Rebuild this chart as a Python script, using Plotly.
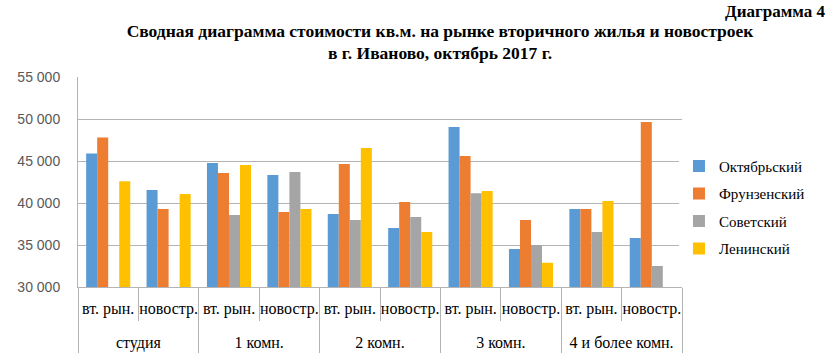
import plotly.graph_objects as go

groups = ["студия", "студия", "1 комн.", "1 комн.", "2 комн.", "2 комн.",
          "3 комн.", "3 комн.", "4 и более комн.", "4 и более комн."]
subcats = ["вт. рын.", "новостр."] * 5

oktyabrsky = [45900, 41550, 44760, 43330, 38690, 37020, 49050, 34520, 39290, 35830]
frunzensky = [47800, 39300, 43570, 38930, 44640, 40120, 45600, 37980, 39290, 49640]
sovetsky   = [None, None, 38570, 43690, 37980, 38330, 41150, 35000, 36550, 32500]
leninsky   = [42600, 41070, 44520, 39290, 46550, 36550, 41430, 32900, 40240, None]

series = [
    ("Октябрьский", oktyabrsky, "#5B9BD5"),
    ("Фрунзенский", frunzensky, "#ED7D31"),
    ("Советский", sovetsky, "#A5A5A5"),
    ("Ленинский", leninsky, "#FFC000"),
]

group_labels = ["<br>" + g for g in groups]

fig = go.Figure()
for name, vals, col in series:
    fig.add_trace(go.Bar(x=[group_labels, subcats], y=vals, name=name, legendgroup=name,
                         marker=dict(color=col, line=dict(width=0))))

serif = "Liberation Serif"
fig.update_layout(
    width=835, height=359,
    margin=dict(l=78, r=153, t=77, b=72, autoexpand=False),
    paper_bgcolor="white", plot_bgcolor="white",
    barmode="group", bargap=0.27, bargroupgap=0,
    separators=", ",
    font=dict(family=serif, size=15, color="#000000"),
    title=dict(text="<b>Сводная диаграмма стоимости кв.м. на рынке вторичного жилья и новостроек<br>в г. Иваново, октябрь 2017 г.</b>",
               x=0.527, xanchor="center", y=0.898, yanchor="top",
               font=dict(family=serif, size=17.5, color="#000")),
    legend=dict(x=0.995, y=0.38, xanchor="left", yanchor="middle",
                traceorder="grouped", tracegroupgap=5,
                font=dict(family=serif, size=15, color="#000"),
                itemwidth=30),
    showlegend=True,
    annotations=[dict(text="<b>Диаграмма 4</b>", xref="paper", yref="paper",
                      x=(827 - 78) / 604, y=287 / 210, xanchor="right", yanchor="top",
                      showarrow=False, font=dict(family=serif, size=17, color="#000"))],
)
fig.update_yaxes(range=[30000, 55000], dtick=5000, tickformat=",d",
                 showgrid=True, gridcolor="#B4B4B4", gridwidth=1,
                 zeroline=False, showline=True, linecolor="#B4B4B4", ticks="",
                 ticklabelstandoff=14,
                 tickfont=dict(family="Liberation Sans", size=14, color="#595959"))
fig.update_xaxes(type="multicategory", showline=True, linecolor="#B4B4B4",
                 ticks="outside", tickson="boundaries", ticklen=33, tickcolor="#B4B4B4",
                 showdividers=True, dividercolor="#B4B4B4", dividerwidth=1,
                 tickangle=0, ticklabelstandoff=7,
                 tickfont=dict(family=serif, size=16, color="#000"))

fig.write_html("out.html", config={"displayModeBar": False},
               post_script="document.body.style.margin='0px';")
